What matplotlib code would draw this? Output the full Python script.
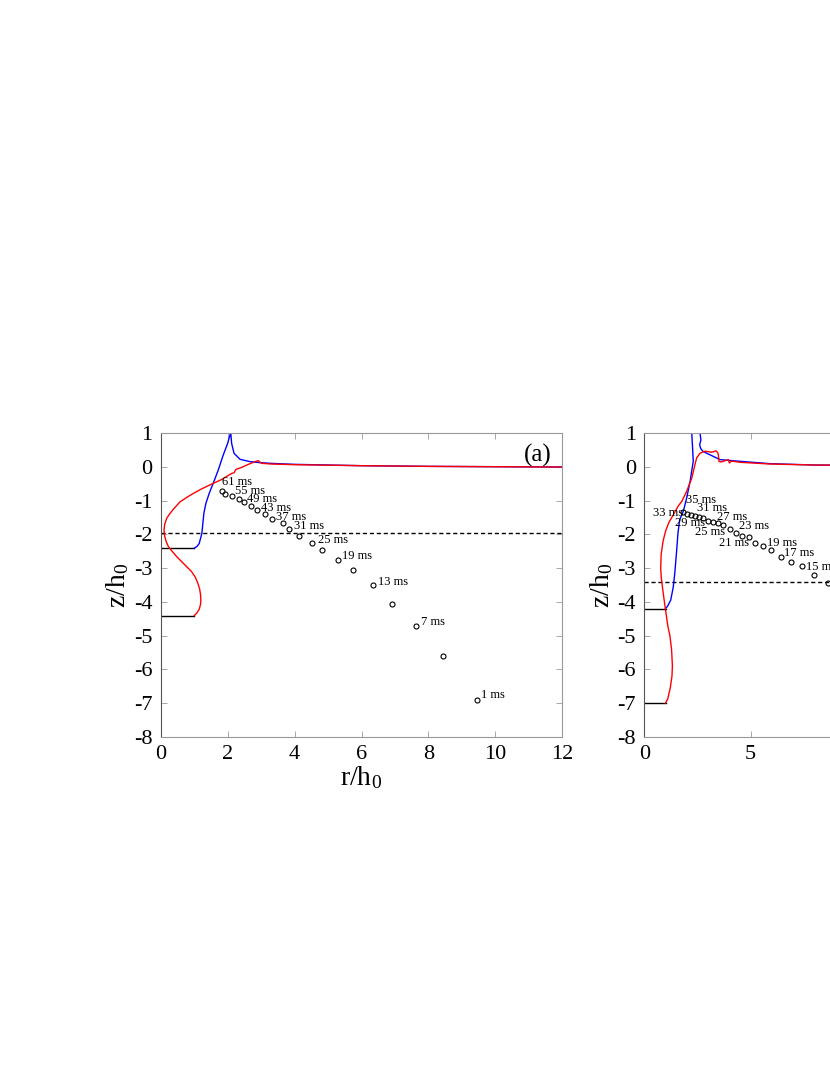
import matplotlib
matplotlib.use('Agg')
import matplotlib.pyplot as plt

plt.rcParams['font.family'] = ['Liberation Serif', 'DejaVu Serif']
plt.rcParams['mathtext.fontset'] = 'custom'
plt.rcParams['mathtext.rm'] = 'Liberation Serif'
plt.rcParams['mathtext.it'] = 'Liberation Serif:italic'
plt.rcParams['axes.unicode_minus'] = False

# ---- panel (a) ----
a_blue_r = [1.0, 1.08, 1.15, 1.23, 1.26, 1.29, 1.35, 1.45, 1.57, 1.72, 1.87, 2.0, 2.07, 2.09, 2.12,
            2.19, 2.37, 2.67, 2.97, 3.27, 4.0, 6.0, 8.0, 10.0, 12.0]
a_blue_z = [-2.41, -2.36, -2.27, -1.97, -1.67, -1.37, -1.08, -0.78, -0.48, -0.09, 0.36, 0.70, 0.95, 1.05, 0.70,
            0.41, 0.23, 0.16, 0.13, 0.11, 0.08, 0.04, 0.02, 0.01, 0.0]
a_red_r = [1.0, 1.08, 1.15, 1.19, 1.2, 1.19, 1.16, 1.1, 1.03, 0.92, 0.78, 0.64, 0.48, 0.36, 0.23, 0.16, 0.12,
           0.10, 0.12, 0.18, 0.26, 0.38, 0.58, 0.78, 0.98, 1.22, 1.47, 1.82, 2.12, 2.19, 2.25, 2.42, 2.62, 2.82,
           2.92, 2.97, 3.02, 3.3, 4.0, 6.0, 8.0, 10.0, 12.0]
a_red_z = [-4.41, -4.33, -4.22, -4.08, -3.95, -3.78, -3.6, -3.42, -3.26, -3.1, -2.96, -2.82, -2.66, -2.52, -2.36,
           -2.2, -2.05, -1.87, -1.7, -1.52, -1.4, -1.25, -1.03, -0.9, -0.78, -0.65, -0.53, -0.37, -0.19, -0.17,
           -0.07, -0.01, 0.08, 0.16, 0.19, 0.14, 0.11, 0.09, 0.07, 0.04, 0.02, 0.01, 0.0]
a_base_z = [-2.41, -4.41]
a_base_r = [1.0, 1.0]
a_dash_z = -1.97
a_pts_t = [61, 58, 55, 52, 49, 46, 43, 40, 37, 34, 31, 28, 25, 22, 19, 16, 13, 10, 7, 4, 1]
a_pts_r = [1.84, 1.93, 2.14, 2.33, 2.49, 2.69, 2.89, 3.13, 3.34, 3.64, 3.84, 4.14, 4.53, 4.83, 5.29, 5.74,
           6.34, 6.90, 7.64, 8.44, 9.44]
a_pts_z = [-0.70, -0.80, -0.86, -0.96, -1.05, -1.16, -1.26, -1.40, -1.55, -1.67, -1.85, -2.06, -2.26, -2.46,
           -2.76, -3.06, -3.51, -4.05, -4.72, -5.62, -6.91]
a_lab_text = ['61 ms', '55 ms', '49 ms', '43 ms', '37 ms', '31 ms', '25 ms', '19 ms', '13 ms', '7 ms', '1 ms']
a_lab_r = [1.84, 2.22, 2.57, 3.0, 3.45, 3.97, 4.71, 5.43, 6.48, 7.77, 9.58]
a_lab_z = [-0.44, -0.70, -0.96, -1.23, -1.47, -1.75, -2.15, -2.64, -3.40, -4.61, -6.77]

# ---- panel (b) ----
b_blue_r = [1.0, 1.1, 1.24, 1.36, 1.43, 1.51, 1.58, 1.66, 1.74, 1.83, 1.99, 2.15, 2.30, 2.27, 2.23, 2.25,
            2.45, 2.62, 2.66, 2.6, 2.65, 2.75, 2.93, 3.56, 4.5, 5.91, 8.0, 12.0, 16.0, 20.0]
b_blue_z = [-4.2, -4.12, -3.95, -3.56, -3.16, -2.56, -1.97, -1.57, -1.45, -1.32, -0.92, -0.43, 0.17, 0.56, 1.0, 1.2,
            1.3, 1.0, 0.8, 0.66, 0.55, 0.47, 0.41, 0.22, 0.17, 0.10, 0.06, 0.04, 0.03, 0.02]
b_red_r = [1.0, 1.1, 1.22, 1.3, 1.32, 1.28, 1.2, 1.1, 1.0, 0.9, 0.8, 0.77, 0.79, 0.88, 1.0, 1.15, 1.36,
           1.6, 1.76, 1.99, 2.23, 2.38, 2.46, 2.62, 2.85, 3.17, 3.37, 3.45, 3.48, 3.51, 3.6, 3.71, 3.95, 4.0,
           4.08, 4.18, 4.5, 5.91, 8.0, 12.0, 16.0, 20.0]
b_red_z = [-7.0, -6.88, -6.55, -6.2, -5.9, -5.4, -5.0, -4.7, -4.25, -3.8, -3.3, -3.0, -2.6, -2.2, -1.9, -1.65, -1.42,
           -1.15, -1.02, -0.72, -0.33, 0.07, 0.27, 0.41, 0.47, 0.44, 0.48, 0.43, 0.36, 0.17, 0.15, 0.17, 0.22, 0.12,
           0.17, 0.17, 0.14, 0.09, 0.06, 0.04, 0.03, 0.02]
b_base_z = [-4.2, -7.0]
b_base_r = [1.0, 1.0]
b_dash_z = -3.41
b_pts_t = list(range(35, 13, -1))
b_pts_r = [1.83, 1.99, 2.18, 2.38, 2.57, 2.77, 3.01, 3.21, 3.48, 3.71, 4.03, 4.30, 4.58, 4.92, 5.2, 5.56,
           5.94, 6.41, 6.90, 7.43, 7.98, 8.62]
b_pts_z = [-1.33, -1.38, -1.42, -1.45, -1.48, -1.52, -1.60, -1.63, -1.67, -1.73, -1.84, -1.95, -2.04, -2.09,
           -2.25, -2.35, -2.45, -2.66, -2.81, -2.94, -3.19, -3.44]
b_lab_text = ['35 ms', '33 ms', '31 ms', '29 ms', '27 ms', '25 ms', '23 ms', '21 ms', '19 ms', '17 ms', '15 ms']
b_lab_r = [1.96, 0.41, 2.48, 1.44, 3.40, 2.38, 4.45, 3.51, 5.75, 6.57, 7.59]
b_lab_z = [-0.97, -1.37, -1.22, -1.66, -1.48, -1.92, -1.75, -2.25, -2.25, -2.56, -2.96]

fig = plt.figure(figsize=(8.3, 10.75), dpi=100)
ax_a = fig.add_axes([0.1936, 0.3147, 0.4839, 0.2822])
ax_b = fig.add_axes([0.7763, 0.3147, 0.5125, 0.2822])


def draw_panel(ax, blue_r, blue_z, red_r, red_z, base_r, base_z, dash_z,
               pts_r, pts_z, lab_r, lab_z, lab_text, xmax, xticks, tag):
    for r, z in zip(base_r, base_z):
        ax.plot([0, r], [z, z], color='black', lw=1.0)
    ax.axhline(dash_z, color='black', lw=1.0, ls=(0, (3, 2)))
    ax.plot(blue_r, blue_z, color='blue', lw=1.0)
    ax.plot(red_r, red_z, color='red', lw=1.0)
    ax.plot(pts_r, pts_z, 'o', ms=3.6, mfc='none', mec='black', mew=0.8)
    for r, z, s in zip(lab_r, lab_z, lab_text):
        ax.text(r, z, s, fontsize=9, ha='left', va='center')
    ax.set_xlim(0, xmax)
    ax.set_ylim(-8, 1)
    ax.set_xticks(xticks)
    ax.set_yticks(range(-8, 2))
    ax.tick_params(direction='in', top=True, right=True, length=4, width=0.6,
                   color='#999999', labelsize=16, pad=6)
    for name, sp in ax.spines.items():
        sp.set_color('#555555' if name == 'left' else '#999999')
        sp.set_linewidth(0.8)
    ax.set_xlabel(r'r/h$_0$', fontsize=20, labelpad=0)
    ax.set_ylabel(r'z/h$_0$', fontsize=20, labelpad=2)
    ax.text(0.974, 0.928, tag, transform=ax.transAxes, ha='right', va='center', fontsize=18)


draw_panel(ax_a, a_blue_r, a_blue_z, a_red_r, a_red_z, a_base_r, a_base_z, a_dash_z,
           a_pts_r, a_pts_z, a_lab_r, a_lab_z, a_lab_text, 12, range(0, 13, 2), '(a)')
draw_panel(ax_b, b_blue_r, b_blue_z, b_red_r, b_red_z, b_base_r, b_base_z, b_dash_z,
           b_pts_r, b_pts_z, b_lab_r, b_lab_z, b_lab_text, 20, range(0, 21, 5), '(b)')

fig.savefig('out.png', dpi=100)
